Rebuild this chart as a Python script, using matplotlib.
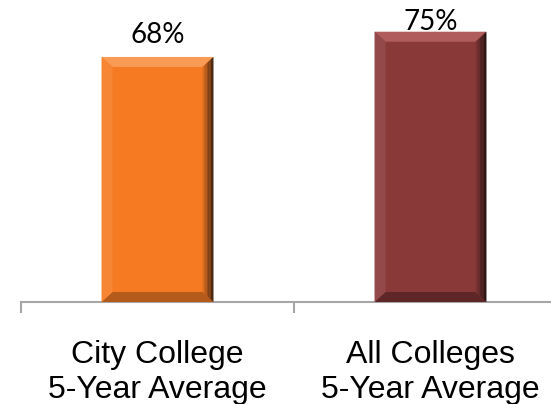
import matplotlib
matplotlib.use("Agg")
import matplotlib.pyplot as plt
from matplotlib.patches import Polygon
from matplotlib.colors import to_rgb
import numpy as np

## data
categories = ["City College\n5-Year Average", "All Colleges\n5-Year Average"]
values = [68, 75]
value_labels = ["68%", "75%"]
bar_colors = ["#F57A22", "#8A3939"]
top_colors = ["#F99A55", "#B05C5C"]
bottom_colors = ["#B45A1A", "#5E2626"]
right_colors = ["#3A2010", "#261212"]

W, H = 551, 404
fig = plt.figure(figsize=(W / 100, H / 100), dpi=100)
ax = fig.add_axes([21 / W, 102 / H, 546 / W, 302 / H])
ymax = 83.8
ax.set_xlim(-0.5, 1.5)
ax.set_ylim(0, ymax)

x = np.arange(len(values))
bars = ax.bar(x, values, width=0.41, color=bar_colors, zorder=2)

# bevel sizes in data units (approx 11 px)
px_x = 2.0 / 546
px_y = ymax / 302
bx = 11 * px_x
by = 10 * px_y


def mix(c1, c2, t):
    a = np.array(to_rgb(c1))
    b = np.array(to_rgb(c2))
    return tuple(a + (b - a) * t)


for i, b in enumerate(bars):
    x0 = b.get_x()
    w = b.get_width()
    h = b.get_height()
    x1 = x0 + w
    # top bevel
    ax.add_patch(Polygon([(x0, h), (x1, h), (x1 - bx, h - by), (x0 + bx, h - by)],
                         closed=True, color=top_colors[i], lw=0, zorder=3))
    # bottom bevel
    ax.add_patch(Polygon([(x0, 0), (x1, 0), (x1 - bx, by), (x0 + bx, by)],
                         closed=True, color=bottom_colors[i], lw=0, zorder=3))
    # left bevel (slightly lighter)
    ax.add_patch(Polygon([(x0, 0), (x0 + bx, by), (x0 + bx, h - by), (x0, h)],
                         closed=True, color=mix(bar_colors[i], "white", 0.08), lw=0, zorder=3))
    # right bevel, gradient to dark
    n = 8
    for k in range(n):
        xa = x1 - bx + bx * k / n
        xb = x1 - bx + bx * (k + 1) / n
        ya0 = by * (1 - k / n)
        yb0 = by * (1 - (k + 1) / n)
        ax.add_patch(Polygon([(xa, ya0), (xb, yb0), (xb, h - yb0), (xa, h - ya0)],
                             closed=True, color=mix(bar_colors[i], right_colors[i], (k + 1) / n),
                             lw=0, zorder=3))
    # label above bar, kept inside the plot area like the original
    ly = min(h + 3.9, ymax - 8.3)
    ax.text(b.get_x() + w / 2, ly, value_labels[i], ha="center", va="baseline",
            fontsize=20, family="Lato", color="black")

for s in ["top", "left", "right"]:
    ax.spines[s].set_visible(False)
ax.spines["bottom"].set_color("#A6A6A6")
ax.spines["bottom"].set_linewidth(1.5)
ax.set_yticks([])

ax.set_xticks([-0.5, 0.5, 1.5])
ax.set_xticklabels([])
ax.tick_params(axis="x", which="major", length=8, width=1.5, color="#A6A6A6")
ax.set_xticks(x, minor=True)
ax.set_xticklabels(categories, minor=True, fontsize=23, family="Liberation Sans",
                   linespacing=1.25)
ax.tick_params(axis="x", which="minor", length=0, pad=27)

fig.savefig("out.png", dpi=100)
